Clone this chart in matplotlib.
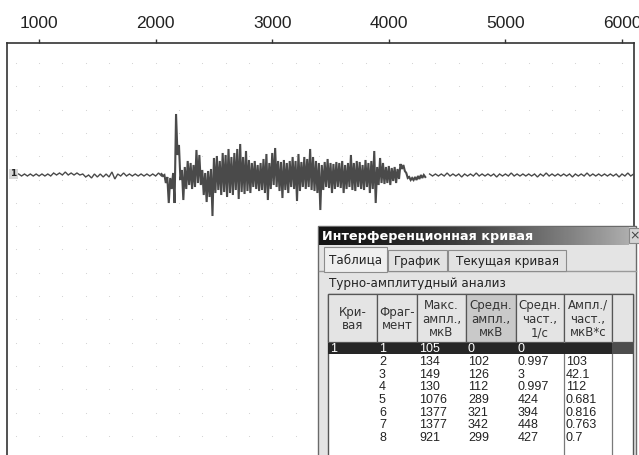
import numpy as np
import matplotlib.pyplot as plt
from matplotlib.patches import Rectangle

# EMG trace, values in µV (upper / lower excursion per sample)
pre_hi = [20, 20, 20, 20, 20, 20, 40, 40, 60, 40, 40, 20, 0, 20, 20, 20, 60, 20, 40, 20, 20, 20, 20, 20, 40]
pre_lo = [-20, -20, -20, -20, -20, -20, 0, 0, 0, 0, 0, -40, -60, -40, -40, -40, -80, -20, -20, -20, -20, -20, -20, -20, -20]

burst_hi = [20, 0, -40, -60, 40, 1220, 600, 100, 160, 280, 240, 200, 500, 400, 100, 40, 80, 120,
            340, 380, 280, 440, 400, 520, 360, 440, 520, 620, 360, 480, 300, 240, 280, 200, 240,
            320, 420, 240, 440, 540, 280, 260, 300, 240, 280, 360, 280, 420, 260, 360, 320, 520,
            360, 280, 240, 200, 260, 320, 240, 220, 260, 240, 280, 200, 240, 400, 240, 280, 260,
            200, 300, 240, 280, 480, 160, 340, 240, 160, 180, 140, 160, 120, 220, 200, 40, -40,
            -60, -40, -20, 0, 0]
burst_lo = [-20, -160, -560, -280, -560, 400, -100, -500, -280, -200, -280, -240, -160, -200,
            -400, -540, -440, -820, -360, -300, -400, -340, -440, -360, -400, -300, -480, -340,
            -380, -320, -360, -240, -280, -320, -300, -360, -500, -280, -200, -240, -320, -460,
            -300, -360, -240, -280, -520, -320, -240, -280, -240, -300, -320, -360, -700, -300,
            -240, -260, -360, -280, -240, -260, -360, -280, -240, -300, -320, -240, -280, -300,
            -240, -360, -280, -560, -200, -160, -180, -160, -200, -120, -160, -80, 120, 80, -60,
            -100, -100, -100, -80, -60, -40]

post_hi = [20, 20, 20, 40, 20, 20, 20, 20, 40, 20, 20, 20, 20, 20, 40, 20, 20, 20,
           20, 20, 40, 20, 20, 20, 20, 20, 20, 40, 20, 20, 20, 20, 20, 20, 40, 20]
post_lo = [-20, -20, -20, -20, -20, -40, -20, -20, -20, -20, -20, -40, -20, -20, -20, -20, -20, -20,
           -40, -20, -20, -20, -20, -20, -40, -20, -20, -20, -20, -20, -20, -20, -40, -20, -20, -20]

x_ticks = [1000, 2000, 3000, 4000, 5000, 6000]

# table of the "Интерференционная кривая" window
col_headers = ['Кри-\nвая', 'Фраг-\nмент', 'Макс.\nампл.,\nмкВ', 'Средн.\nампл.,\nмкВ',
               'Средн.\nчаст.,\n1/с', 'Ампл./\nчаст.,\nмкВ*с', '']
curve = ['1', '', '', '', '', '', '', '']
fragment = ['1', '2', '3', '4', '5', '6', '7', '8']
max_ampl = ['105', '134', '149', '130', '1076', '1377', '1377', '921']
mean_ampl = ['0', '102', '126', '112', '289', '321', '342', '299']
mean_freq = ['0', '0.997', '3', '0.997', '424', '394', '448', '427']
ampl_freq = ['', '103', '42.1', '112', '0.681', '0.816', '0.763', '0.7']


def zigzag(t0, step, hi, lo):
    t = t0 + step * np.arange(len(hi))
    xs = np.empty(2 * len(hi))
    ys = np.empty(2 * len(hi))
    xs[0::2] = t
    xs[1::2] = t + step / 2
    ys[0::2] = hi
    ys[1::2] = lo
    return xs, ys


def main():
    fig = plt.figure(figsize=(6.39, 4.55), dpi=100)
    fig.patch.set_facecolor('white')

    # main trace axes (pixel layout of the screenshot)
    ax = fig.add_axes([7 / 639, 0, 627 / 639, 412 / 455])
    ax.set_xlim(725, 6103)
    ax.set_ylim(-5600, 2640)

    # faint dotted grid
    gx, gy = np.meshgrid(np.arange(800, 6100, 200), np.arange(2240, -5600, -466))
    ax.scatter(gx.ravel(), gy.ravel(), s=0.6, color='#cfcfcf', linewidths=0, zorder=1)

    for t0, step, hi, lo, lw in [(825, 50, pre_hi, pre_lo, 1.0),
                                 (2050, 25, burst_hi, burst_lo, 1.5),
                                 (4350, 50, post_hi, post_lo, 1.0)]:
        xs, ys = zigzag(t0, step, hi, lo)
        ax.plot(xs, ys, color='#4a4a4a', lw=lw, zorder=3, solid_joinstyle='miter')

    ax.xaxis.tick_top()
    ax.set_xticks(x_ticks)
    ax.set_xticklabels([str(v) for v in x_ticks], fontsize=12.5, family='Liberation Sans', color='#222222')
    ax.tick_params(axis='x', direction='out', length=3, width=1, pad=6, color='#333333')
    ax.set_yticks([])
    ax.spines['bottom'].set_visible(False)
    for s in ['top', 'left', 'right']:
        ax.spines[s].set_color('#333333')
        ax.spines[s].set_linewidth(1.2)

    # overlay in pixel coordinates for the channel marker and the window
    ui = fig.add_axes([0, 0, 1, 1], zorder=5)
    ui.patch.set_alpha(0)

    ui.add_patch(Rectangle((9, 169), 9, 10, fc='#d6d6d6', ec='none'))
    ui.text(13.5, 174, '1', fontsize=6.5, weight='bold', ha='center', va='center', color='#222222')

    ui.add_patch(Rectangle((318, 226), 318, 240, fc='#e4e4e4', ec='#6a6a6a', lw=1))
    grad = np.linspace(0, 1, 300)
    grad = (0.08 + 0.6 * grad ** 1.6)[None, :]
    ui.imshow(grad, extent=[319, 629, 245, 227], cmap='gray', vmin=0, vmax=1, aspect='auto', zorder=2)
    ui.text(322, 236.5, 'Интерференционная кривая', fontsize=9.2, weight='bold',
            color='white', ha='left', va='center', family='DejaVu Sans', zorder=3)
    ui.add_patch(Rectangle((629, 228), 12, 15, fc='#d4d4d4', ec='#888888', lw=0.8, zorder=3))
    ui.text(635, 235.5, '×', fontsize=9, ha='center', va='center', color='#444444', zorder=4)

    # tabs
    ui.plot([319, 636], [271, 271], color='#9a9a9a', lw=1, zorder=2)
    tabs = [('Таблица', 324, 387, 247), ('График', 388, 447, 250), ('Текущая кривая', 448, 566, 250)]
    for name, x0, x1, y0 in tabs:
        fc = '#efefef' if name == 'Таблица' else '#e2e2e2'
        ui.add_patch(Rectangle((x0, y0), x1 - x0, 271 - y0 + (1 if name == 'Таблица' else 0),
                               fc=fc, ec='#8c8c8c', lw=0.8, zorder=3))
        ui.text((x0 + x1) / 2, (y0 + 271) / 2 + 1, name, fontsize=8.6, ha='center', va='center',
                color='#222222', family='DejaVu Sans', zorder=4)

    ui.text(329, 283, 'Турно-амплитудный анализ', fontsize=8.6, ha='left', va='center',
            color='#222222', family='DejaVu Sans', zorder=3)

    # table
    col_x = [328, 377, 417, 466, 516, 564, 612, 633]
    ui.add_patch(Rectangle((328, 294), 305, 170, fc='white', ec='#555555', lw=1, zorder=2))
    for i, head in enumerate(col_headers):
        fc = '#c9c9c9' if i == 3 else '#e4e4e4'
        ui.add_patch(Rectangle((col_x[i], 294), col_x[i + 1] - col_x[i], 48,
                               fc=fc, ec='#555555', lw=0.9, zorder=3))
        ui.text((col_x[i] + col_x[i + 1]) / 2, 319, head, fontsize=8.5, ha='center', va='center',
                linespacing=1.05, color='#333333', family='DejaVu Sans', zorder=4)
    for xv in [564, 612]:
        ui.plot([xv, xv], [342, 455], color='#7a7a7a', lw=0.9, zorder=3)

    ui.add_patch(Rectangle((328, 343), 284, 11, fc='#262626', ec='none', zorder=3))
    ui.add_patch(Rectangle((612, 343), 21, 11, fc='#4d4d4d', ec='none', zorder=3))

    columns = [curve, fragment, max_ampl, mean_ampl, mean_freq, ampl_freq]
    for r in range(len(fragment)):
        y = 348.5 + 12.7 * r + (0 if r == 0 else 0.7)
        color = 'white' if r == 0 else '#222222'
        for c, col in enumerate(columns):
            ui.text(col_x[c] + 2, y, col[r], fontsize=9, ha='left', va='center',
                    color=color, family='Liberation Sans', zorder=4)

    ui.set_xlim(0, 639)
    ui.set_ylim(455, 0)
    ui.axis('off')

    fig.savefig('out.png', dpi=100)
    print("Plot generated successfully.")


if __name__ == "__main__":
    main()
